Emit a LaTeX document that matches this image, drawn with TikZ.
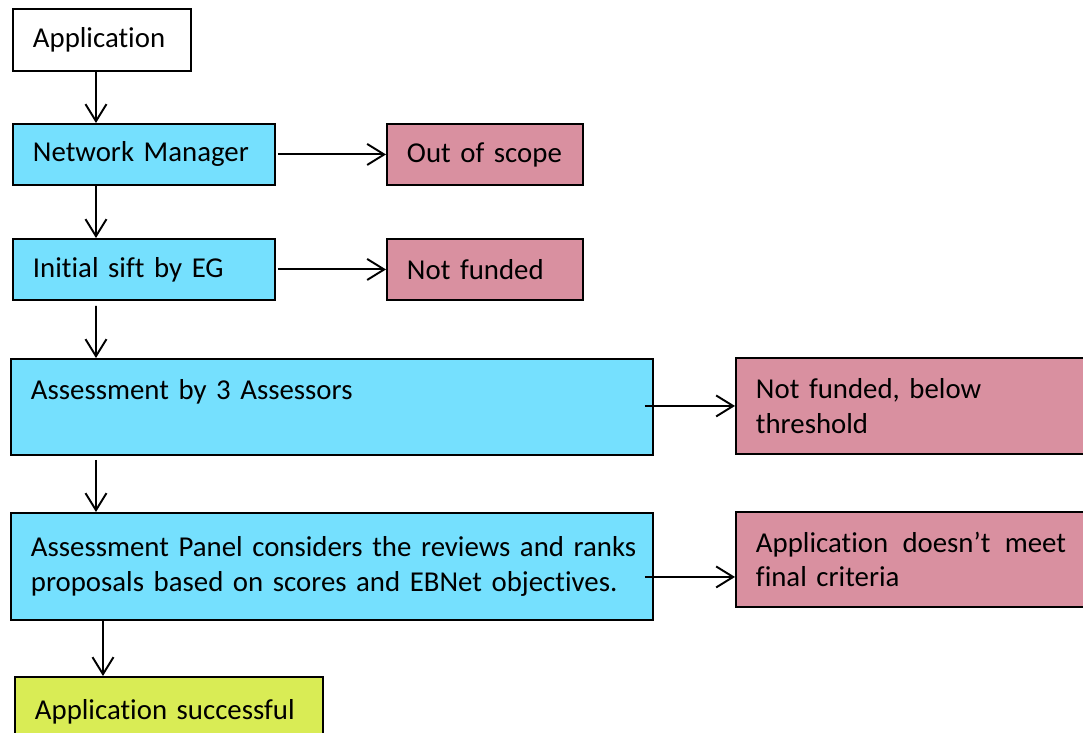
\documentclass[tikz,border=0pt]{standalone}
\usepackage{fontspec}
\setmainfont[Ligatures=NoCommon]{Carlito}
\usetikzlibrary{arrows.meta}

\definecolor{stagecyan}{RGB}{117,224,254}
\definecolor{rejectpink}{RGB}{217,144,160}
\definecolor{okgreen}{RGB}{217,236,85}

\tikzset{
	stage/.style={draw, line width=1.1pt, anchor=north west, align=left,
		inner xsep=0.4cm, inner ysep=0pt,
		font=\fontsize{16.4}{19.8}\selectfont},
	flow/.style={-{Straight Barb[length=0.34cm,width=0.42cm]}, line width=1.1pt}
}

\begin{document}
\begin{tikzpicture}[x=0.02cm,y=-0.02cm]
		\useasboundingbox (0,0) rectangle (1083,733);
		\clip (0,0) rectangle (1083,733);
		\fill[white] (0,0) rectangle (1083,733);
		
		% main line
		\node[stage, fill=white, text width=2.76cm, minimum height=1.24cm] (app) at (12,8) {Application};
		\node[stage, fill=stagecyan, text width=4.44cm, minimum height=1.22cm] (nm) at (12,123) {Network Manager};
		\node[stage, fill=stagecyan, text width=4.44cm, minimum height=1.22cm] (sift) at (12,238) {Initial sift by EG};
		\node[stage, fill=stagecyan, text width=12.04cm, minimum height=1.92cm] (ass) at (10,358) {Assessment by 3 Assessors\\ \mbox{}};
		\node[stage, fill=stagecyan, text width=12.04cm, minimum height=2.14cm] (panel) at (10,512) {\mbox{Assessment Panel considers the reviews and ranks}\\ proposals based on scores and EBNet objectives.};
		\node[stage, fill=okgreen, text width=5.36cm, minimum height=1.4cm] (succ) at (14,676) {Application successful};
		
		% rejections
		\node[stage, fill=rejectpink, text width=3.12cm, minimum height=1.22cm] (oos) at (386,123) {Out of scope};
		\node[stage, fill=rejectpink, text width=3.12cm, minimum height=1.22cm] (nf) at (386,238) {Not funded};
		\node[stage, fill=rejectpink, text width=6.4cm, minimum height=1.92cm] (nfb) at (735,357) {Not funded, below\\ threshold};
		\node[stage, fill=rejectpink, text width=6.4cm, minimum height=1.9cm] (crit) at (735,511) {Application\enspace doesn't\enspace meet\\ final criteria};
		
		\draw[flow] ([xshift=1.68cm]app.south west) -- ([xshift=1.68cm]nm.north west);
		\draw[flow] ([xshift=1.68cm]nm.south west) -- ([xshift=1.68cm]sift.north west);
		\draw[flow, shorten <=0.1cm] ([xshift=1.68cm]sift.south west) -- ([xshift=1.72cm]ass.north west);
		\draw[flow, shorten <=0.08cm] ([xshift=1.72cm]ass.south west) -- ([xshift=1.72cm]panel.north west);
		\draw[flow] ([xshift=1.86cm]panel.south west) -- ([xshift=1.78cm]succ.north west);
		
		\draw[flow, shorten <=0.04cm] (nm.east) -- (oos.west);
		\draw[flow, shorten <=0.04cm] (sift.east) -- (nf.west);
		\draw[flow] ([xshift=-0.18cm]ass.east |- nfb.west) -- (nfb.west);
		\draw[flow] ([shift={(-9,10.5)}]panel.east) coordinate (pe) -- (pe -| crit.west);
	\end{tikzpicture}
\end{document}
